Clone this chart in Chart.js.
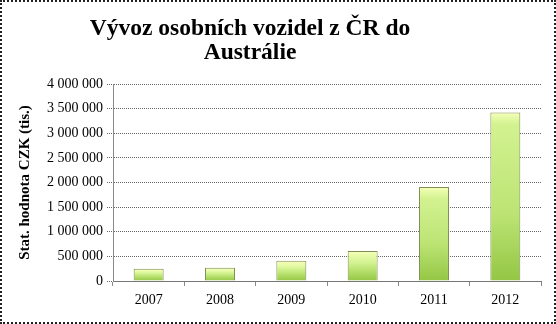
<!DOCTYPE html>
<html>
<head>
<meta charset="utf-8">
<script src="https://cdn.jsdelivr.net/npm/chart.js@4"></script>
<style>
  html, body { margin: 0; padding: 0; background: #fff; }
  #wrap { position: relative; width: 556px; height: 324px; box-sizing: border-box; border: 2px dotted #222; }
  canvas { position: absolute; left: -2px; top: -2px; }
</style>
</head>
<body>
<div id="wrap"><canvas id="chart" width="556" height="324"></canvas></div>
<script>
const years = ["2007", "2008", "2009", "2010", "2011", "2012"];
const exportValues = [250000, 270000, 410000, 610000, 1910000, 3420000];
const titleLines = ["Vývoz osobních vozidel z ČR do", "Austrálie"];
const yTitle = "Stat. hodnota CZK (tis.)";

const serif = "'Liberation Serif', 'DejaVu Serif', serif";

function formatNumber(v) {
  return String(v).replace(/\B(?=(\d{3})+(?!\d))/g, " ");
}

// gradient per bar, light top to green bottom
function barFill(context) {
  const chart = context.chart;
  if (!chart.chartArea) return "#c8ec7c";
  const y = chart.scales.y;
  const top = y.getPixelForValue(context.raw);
  const bottom = y.getPixelForValue(0);
  const h = Math.max(bottom - top, 1);
  const g = chart.ctx.createLinearGradient(0, top, 0, bottom);
  g.addColorStop(0, "#f8ffbc");
  g.addColorStop(Math.min(0.25, 5 / h), "#e6faa6");
  g.addColorStop(Math.min(0.4, 12 / h), "#d2f290");
  g.addColorStop(0.6, "#bce474");
  g.addColorStop(1, "#94c644");
  return g;
}

const titlePlugin = {
  id: "bigTitle",
  afterDraw(chart) {
    const c = chart.ctx;
    c.save();
    c.fillStyle = "#000";
    c.font = "bold 23.5px " + serif;
    c.textAlign = "center";
    c.textBaseline = "alphabetic";
    c.fillText(titleLines[0], 250, 35);
    c.fillText(titleLines[1], 250, 59);
    c.restore();
  }
};

new Chart(document.getElementById("chart"), {
  type: "bar",
  data: {
    labels: years,
    datasets: [{
      data: exportValues,
      backgroundColor: barFill,
      borderColor: "#7f8f52",
      borderWidth: 1,
      barPercentage: 0.42,
      categoryPercentage: 1
    }]
  },
  plugins: [titlePlugin],
  options: {
    responsive: false,
    animation: false,
    layout: { padding: { left: 4, right: 15, top: 84, bottom: 0 } },
    plugins: {
      legend: { display: false },
      title: { display: false },
      tooltip: { enabled: false }
    },
    scales: {
      x: {
        afterFit: s => { s.height = 43; },
        grid: { drawOnChartArea: false, offset: true, tickLength: 5, color: "#888" },
        border: { display: true, color: "#777", width: 1 },
        ticks: { color: "#000", font: { family: serif, size: 14 }, padding: 6 }
      },
      y: {
        min: 0,
        max: 4000000,
        afterFit: s => { s.width = 109; },
        grid: { color: "#666", tickLength: 6, tickBorderDash: [1, 1] },
        border: { display: true, color: "#888", dash: [1, 1] },
        ticks: {
          stepSize: 500000,
          color: "#000",
          font: { family: serif, size: 14 },
          padding: 4,
          callback: v => formatNumber(v)
        },
        title: {
          display: true,
          text: yTitle,
          color: "#000",
          font: { family: serif, size: 15, weight: "bold" },
          padding: { top: 12, bottom: 0 }
        }
      }
    }
  }
});
</script>
</body>
</html>
